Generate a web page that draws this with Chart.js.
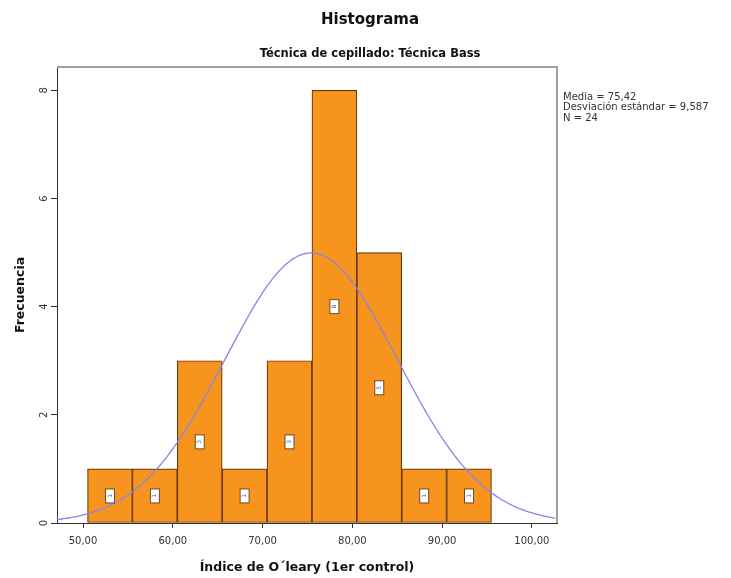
<!DOCTYPE html>
<html>
<head>
<meta charset="utf-8">
<title>Histograma</title>
<script src="https://cdn.jsdelivr.net/npm/chart.js@4.4.0/dist/chart.umd.min.js"></script>
<style>
  html, body { margin: 0; padding: 0; background: #fff; }
  #wrap { width: 731px; height: 578px; }
</style>
</head>
<body>
<div id="wrap"><canvas id="histChart" width="731" height="578"></canvas></div>
<script>
// Histogram data (5-point bins)
const binCenters = [53, 58, 63, 68, 73, 78, 83, 88, 93];
const frequencies = [1, 1, 3, 1, 3, 8, 5, 1, 1];
const binWidth = 5;

// Axis ticks
const xTickValues = [50, 60, 70, 80, 90, 100];
const yTickValues = [0, 2, 4, 6, 8];

// Summary statistics shown next to the plot
const media = 75.42;
const desviacion = 9.587;
const nTotal = 24;

const xMin = 47.1, xMax = 102.8;
const yMax = 8.43;

const fmt = (v, d) => v.toFixed(d).replace(".", ",");

// Normal curve scaled to the histogram (N * bin width * density)
function normalCurve() {
    const pts = [];
    const k = nTotal * binWidth / (desviacion * Math.sqrt(2 * Math.PI));
    for (let x = xMin; x <= xMax + 0.01; x += 0.25) {
        const z = (x - media) / desviacion;
        pts.push({ x: x, y: k * Math.exp(-0.5 * z * z) });
    }
    return pts;
}

const FONT = "'DejaVu Sans', sans-serif";

// Titles, axis titles, frame, stats box and count labels
const extras = {
    id: "extras",
    afterDatasetsDraw(chart) {
        const ctx = chart.ctx;
        const ys = chart.scales.y;
        const meta = chart.getDatasetMeta(1);

        // count boxes at half the bar height
        ctx.save();
        meta.data.forEach((bar, i) => {
            const cx = bar.x;
            const cy = ys.getPixelForValue(frequencies[i] / 2);
            ctx.fillStyle = "#fff";
            ctx.strokeStyle = "#6b4a22";
            ctx.lineWidth = 1;
            ctx.fillRect(cx - 4.5, cy - 7, 9, 14);
            ctx.strokeRect(cx - 4.5, cy - 7, 9, 14);
            ctx.save();
            ctx.translate(cx, cy);
            ctx.rotate(-Math.PI / 2);
            ctx.fillStyle = "#4a5a9a";
            ctx.font = "6px " + FONT;
            ctx.textAlign = "center";
            ctx.textBaseline = "middle";
            ctx.fillText(String(frequencies[i]), 0, 0);
            ctx.restore();
        });
        ctx.restore();
    },
    afterDraw(chart) {
        const ctx = chart.ctx;
        const area = chart.chartArea;
        ctx.save();

        // top and right frame
        ctx.strokeStyle = "#a0a0a0";
        ctx.lineWidth = 2;
        ctx.beginPath();
        ctx.moveTo(area.left, area.top);
        ctx.lineTo(area.right, area.top);
        ctx.lineTo(area.right, area.bottom);
        ctx.stroke();

        ctx.fillStyle = "#111";
        ctx.textAlign = "center";
        ctx.textBaseline = "middle";
        ctx.font = "bold 15px " + FONT;
        ctx.fillText("Histograma", 370, 20);
        ctx.font = "bold 11.5px " + FONT;
        ctx.fillText("Técnica de cepillado: Técnica Bass", 370, 54);

        ctx.font = "bold 12.5px " + FONT;
        ctx.fillText("Índice de O´leary (1er control)", (area.left + area.right) / 2, 568);

        ctx.save();
        ctx.translate(21, (area.top + area.bottom) / 2);
        ctx.rotate(-Math.PI / 2);
        ctx.fillText("Frecuencia", 0, 0);
        ctx.restore();

        // statistics
        ctx.font = "10px " + FONT;
        ctx.textAlign = "left";
        ctx.fillStyle = "#333";
        const lines = [
            "Media = " + fmt(media, 2),
            "Desviación estándar = " + fmt(desviacion, 3),
            "N = " + nTotal
        ];
        lines.forEach((t, i) => ctx.fillText(t, 563, 97 + i * 10.5));
        ctx.restore();
    }
};

const ctx = document.getElementById("histChart").getContext("2d");
new Chart(ctx, {
    type: "bar",
    data: {
        datasets: [
            {
                type: "line",
                data: normalCurve(),
                borderColor: "#8a84e4",
                borderWidth: 1.3,
                pointRadius: 0,
                tension: 0,
                fill: false,
                order: 0
            },
            {
                type: "bar",
                data: binCenters.map((c, i) => ({ x: c, y: frequencies[i] })),
                backgroundColor: "#f7941e",
                borderColor: "#6e3a08",
                borderWidth: 1.2,
                borderSkipped: false,
                barPercentage: 1,
                categoryPercentage: 1,
                order: 1
            }
        ]
    },
    options: {
        responsive: false,
        animation: false,
        events: [],
        layout: { padding: { top: 67, right: 174, left: 0, bottom: 0 } },
        plugins: {
            legend: { display: false },
            tooltip: { enabled: false }
        },
        scales: {
            x: {
                type: "linear",
                min: xMin,
                max: xMax,
                offset: false,
                afterBuildTicks: (s) => { s.ticks = xTickValues.map(v => ({ value: v })); },
                afterFit: (s) => { s.height = 55; },
                grid: { offset: false, drawOnChartArea: false, tickLength: 5, color: "#333" },
                border: { color: "#333", width: 1 },
                ticks: {
                    color: "#333",
                    font: { family: FONT, size: 10 },
                    padding: 7,
                    maxRotation: 0,
                    callback: (v) => fmt(v, 2)
                }
            },
            y: {
                min: 0,
                max: yMax,
                afterBuildTicks: (s) => { s.ticks = yTickValues.map(v => ({ value: v })); },
                afterFit: (s) => { s.width = 57; },
                grid: { drawOnChartArea: false, tickLength: 6, color: "#333" },
                border: { color: "#333", width: 1 },
                ticks: {
                    color: "#333",
                    font: { family: FONT, size: 10 },
                    padding: 3,
                    minRotation: 90,
                    maxRotation: 90,
                    crossAlign: "center"
                }
            }
        }
    },
    plugins: [extras]
});
</script>
</body>
</html>
